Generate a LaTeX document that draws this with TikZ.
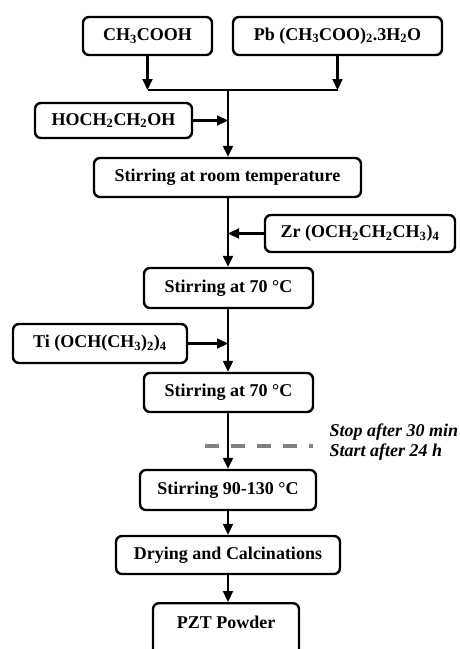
\documentclass[tikz,border=0pt]{standalone}
\usepackage{fontspec}
\setmainfont{Liberation Serif}
\usetikzlibrary{arrows.meta}

\tikzset{
  box/.style={draw, line width=2.4pt, rounded corners=6pt, minimum height=38pt,
    inner sep=2pt, font=\fontsize{18}{21}\selectfont\bfseries},
  flow/.style={line width=2.2pt, -{Triangle[length=11pt,width=10pt]}},
  feed/.style={line width=2.2pt},
  note/.style={font=\fontsize{18}{20}\selectfont\bfseries\itshape, align=left, anchor=west}
}

\begin{document}
\begin{tikzpicture}[x=1pt, y=-1pt]
    % page frame
    \useasboundingbox (0,0) rectangle (459,649);

    % Starting chemicals
    \node[box, minimum width=129pt] (acid) at (147.5,36) {CH\textsubscript{3}COOH};
    \node[box, minimum width=209pt] (lead) at (337.5,36) {Pb (CH\textsubscript{3}COO)\textsubscript{2}.3H\textsubscript{2}O};
    \coordinate (join) at (228,90);
    \node[box, minimum width=157pt, minimum height=35pt] (glycol) at (113.5,120.5) {HOCH\textsubscript{2}CH\textsubscript{2}OH};

    % Process steps
    \node[box, minimum width=267pt, minimum height=39pt] (room) at (227.5,177.5) {Stirring at room temperature};
    \node[box, minimum width=190pt, minimum height=37pt] (zr) at (360,233.5) {Zr (OCH\textsubscript{2}CH\textsubscript{2}CH\textsubscript{3})\textsubscript{4}};
    \node[box, minimum width=169pt, minimum height=40pt] (hotA) at (228.5,288) {Stirring at 70 °C};
    \node[box, minimum width=174pt, minimum height=39pt] (ti) at (100,343.5) {Ti (OCH(CH\textsubscript{3})\textsubscript{2})\textsubscript{4}};
    \node[box, minimum width=169pt, minimum height=39pt] (hotB) at (228.5,392.5) {Stirring at 70 °C};
    \node[box, minimum width=176pt, minimum height=40pt] (heat) at (228,490) {Stirring 90-130 °C};
    \node[box, minimum width=224pt] (dry) at (228,555) {Drying and Calcinations};
    \node[box, anchor=north, minimum width=146pt, minimum height=60pt, text depth=22pt] (pzt) at (226,602) {PZT Powder};

    % Pause in the stirring
    \coordinate (pauseL) at (205,446);
    \coordinate (pauseR) at (313,446);
    \draw[line width=4pt, gray, dash pattern=on 14pt off 12pt] (pauseL) -- (pauseR);
    \node[note] (pause) at (326,442) {Stop after 30 min\\Start after 24 h};

    % Connectors
    \draw[flow] (acid.south) -- (acid.south |- join);
    \draw[flow] (lead.south) -- (lead.south |- join);
    \draw[feed] (acid.south |- join) -- (lead.south |- join);
    \draw[flow] (join) -- (join |- room.north);
    \draw[flow] (glycol.east) -- (glycol.east -| join);
    \draw[flow] (join |- room.south) -- (join |- hotA.north);
    \draw[flow] (zr.west) -- (zr.west -| join);
    \draw[flow] (join |- hotA.south) -- (join |- hotB.north);
    \draw[flow] (ti.east) -- (ti.east -| join);
    \draw[flow] (join |- hotB.south) -- (join |- heat.north);
    \draw[flow] (join |- heat.south) -- (join |- dry.north);
    \draw[flow] (join |- dry.south) -- (join |- pzt.north);
\end{tikzpicture}
\end{document}
